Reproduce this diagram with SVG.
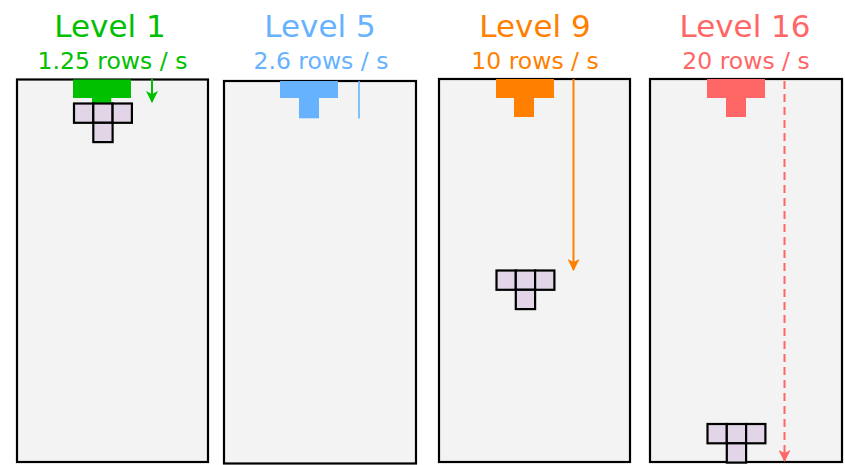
<svg xmlns="http://www.w3.org/2000/svg" width="845" height="465" viewBox="0 0 845 465">
<defs>
<style>
.board{fill:#f3f3f3;stroke:#000;stroke-width:2.2}
.ghost{fill:#e1d5e7;stroke:#000;stroke-width:2.2}
.title{font-family:"DejaVu Sans",Verdana,sans-serif;font-size:31px;text-anchor:middle}
.sub{font-family:"DejaVu Sans",Verdana,sans-serif;font-size:23.5px;text-anchor:middle}
.g{fill:#00c000}.b{fill:#66b2ff}.o{fill:#ff8000}.r{fill:#ff6666}
</style>
<marker id="ag" markerUnits="userSpaceOnUse" markerWidth="12" markerHeight="12" refX="11" refY="6" orient="auto"><path d="M0,0 L12,6 L0,12 L3,6 z" fill="#00c000"/></marker>
<marker id="ao" markerUnits="userSpaceOnUse" markerWidth="12" markerHeight="12" refX="11" refY="6" orient="auto"><path d="M0,0 L12,6 L0,12 L3,6 z" fill="#ff8000"/></marker>
<marker id="ar" markerUnits="userSpaceOnUse" markerWidth="12" markerHeight="12" refX="11" refY="6" orient="auto"><path d="M0,0 L12,6 L0,12 L3,6 z" fill="#ff6666"/></marker>
</defs>

<g id="level1">
<text class="title g" x="110" y="37">Level 1</text>
<text class="sub g" x="112.5" y="69">1.25 rows / s</text>
<rect class="board" x="17" y="79.5" width="191" height="382.5"/>
<rect class="g" x="73" y="79.5" width="58" height="18.5"/>
<rect class="g" x="92" y="98" width="19.3" height="19"/>
<g class="ghost">
<rect x="74" y="103.5" width="19.3" height="19.3"/>
<rect x="93.3" y="103.5" width="19.3" height="19.3"/>
<rect x="112.6" y="103.5" width="19.3" height="19.3"/>
<rect x="93.3" y="122.8" width="19.3" height="19.3"/>
</g>
</g>

<g id="level5">
<text class="title b" x="320" y="37">Level 5</text>
<text class="sub b" x="321" y="69">2.6 rows / s</text>
<rect class="board" x="224" y="81" width="192" height="382.5"/>
<rect class="b" x="280" y="81" width="58" height="17"/>
<rect class="b" x="299" y="97.5" width="20" height="20.8"/>
</g>

<g id="level9">
<text class="title o" x="535" y="37">Level 9</text>
<text class="sub o" x="535" y="69">10 rows / s</text>
<rect class="board" x="439" y="79" width="191" height="383"/>
<rect class="o" x="496" y="79" width="58" height="19"/>
<rect class="o" x="514" y="97.5" width="20" height="19.5"/>
<g class="ghost">
<rect x="496.5" y="270.5" width="19.3" height="19.3"/>
<rect x="515.8" y="270.5" width="19.3" height="19.3"/>
<rect x="535.1" y="270.5" width="19.3" height="19.3"/>
<rect x="515.8" y="289.8" width="19.3" height="19.3"/>
</g>
</g>

<g id="level16">
<text class="title r" x="745" y="37">Level 16</text>
<text class="sub r" x="746" y="69">20 rows / s</text>
<rect class="board" x="650" y="79" width="192" height="383"/>
<rect class="r" x="707" y="79" width="58" height="19"/>
<rect class="r" x="726" y="97.5" width="20" height="19.5"/>
<g class="ghost">
<rect x="707.5" y="424" width="19.3" height="19.3"/>
<rect x="726.8" y="424" width="19.3" height="19.3"/>
<rect x="746.1" y="424" width="19.3" height="19.3"/>
<rect x="726.8" y="443.3" width="19.3" height="19.3"/>
</g>
</g>

<g id="connectors" fill="none">
<line x1="152" y1="79" x2="152" y2="102" stroke="#00c000" stroke-width="2" marker-end="url(#ag)"/>
<line x1="359" y1="81" x2="359" y2="118.5" stroke="#66b2ff" stroke-width="1.6"/>
<line x1="573.5" y1="79" x2="573.5" y2="270" stroke="#ff8000" stroke-width="2" marker-end="url(#ao)"/>
<line x1="784.5" y1="81" x2="784.5" y2="461" stroke="#ff6666" stroke-width="2" stroke-dasharray="8,5" marker-end="url(#ar)"/>
</g>
</svg>
